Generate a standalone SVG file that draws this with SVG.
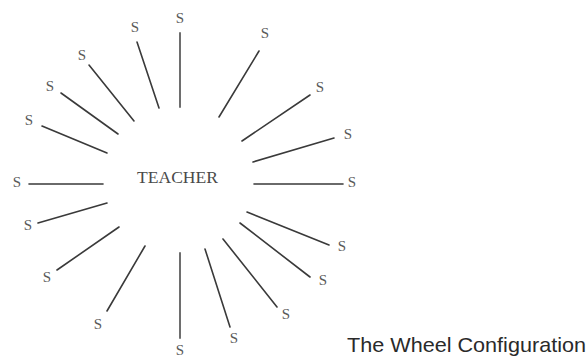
<svg xmlns="http://www.w3.org/2000/svg" width="588" height="358" viewBox="0 0 588 358">
<style>
.s{font-family:"Liberation Serif","Times New Roman",serif;font-size:15px;fill:#5a5a5a;text-anchor:middle}
.t{font-family:"Liberation Serif","Times New Roman",serif;font-size:16.5px;fill:#4a4a4a}
.cap{font-family:"Liberation Sans",Arial,sans-serif;font-size:21px;fill:#2a2a2a}
.c line{stroke:#3a3a3a;stroke-width:1.6;stroke-linecap:round}
.c line.v{stroke:#6e6e6e;stroke-width:2}
</style>
<rect width="588" height="358" fill="#fff"/>
<g id="connectors" class="c">
<line class="v" x1="180" y1="33" x2="180" y2="107"/>
<line x1="137" y1="42" x2="159" y2="108"/>
<line x1="89" y1="65" x2="134" y2="121"/>
<line x1="61" y1="93" x2="118" y2="134"/>
<line x1="42" y1="126" x2="107" y2="153"/>
<line x1="29" y1="184" x2="103" y2="184"/>
<line x1="38" y1="223" x2="107" y2="203"/>
<line x1="57" y1="270" x2="119" y2="227"/>
<line x1="107" y1="311" x2="145" y2="246"/>
<line class="v" x1="180" y1="253" x2="180" y2="338"/>
<line x1="205" y1="249" x2="230" y2="327"/>
<line x1="223" y1="239" x2="277" y2="307"/>
<line x1="240" y1="223" x2="310" y2="277"/>
<line x1="247" y1="212" x2="329" y2="245"/>
<line x1="254" y1="184" x2="343" y2="184"/>
<line x1="253" y1="162" x2="334" y2="138"/>
<line x1="242" y1="141" x2="310" y2="95"/>
<line x1="219" y1="117" x2="259" y2="51"/>
</g>
<g id="teacher"><text class="t" x="137" y="183" textLength="81" lengthAdjust="spacingAndGlyphs">TEACHER</text></g>
<g id="s1"><text class="s" x="180" y="23">S</text></g>
<g id="s2"><text class="s" x="135" y="32">S</text></g>
<g id="s3"><text class="s" x="82" y="60">S</text></g>
<g id="s4"><text class="s" x="50" y="91">S</text></g>
<g id="s5"><text class="s" x="29" y="125">S</text></g>
<g id="s6"><text class="s" x="17" y="187">S</text></g>
<g id="s7"><text class="s" x="28" y="230">S</text></g>
<g id="s8"><text class="s" x="47" y="282">S</text></g>
<g id="s9"><text class="s" x="98" y="329">S</text></g>
<g id="s10"><text class="s" x="180" y="355">S</text></g>
<g id="s11"><text class="s" x="234" y="343">S</text></g>
<g id="s12"><text class="s" x="286" y="319">S</text></g>
<g id="s13"><text class="s" x="323" y="285">S</text></g>
<g id="s14"><text class="s" x="342" y="251">S</text></g>
<g id="s15"><text class="s" x="352" y="187">S</text></g>
<g id="s16"><text class="s" x="348" y="139">S</text></g>
<g id="s17"><text class="s" x="320" y="92">S</text></g>
<g id="s18"><text class="s" x="265" y="38">S</text></g>
<g id="caption"><text class="cap" x="347" y="352" textLength="239" lengthAdjust="spacingAndGlyphs">The Wheel Configuration</text></g>
</svg>
